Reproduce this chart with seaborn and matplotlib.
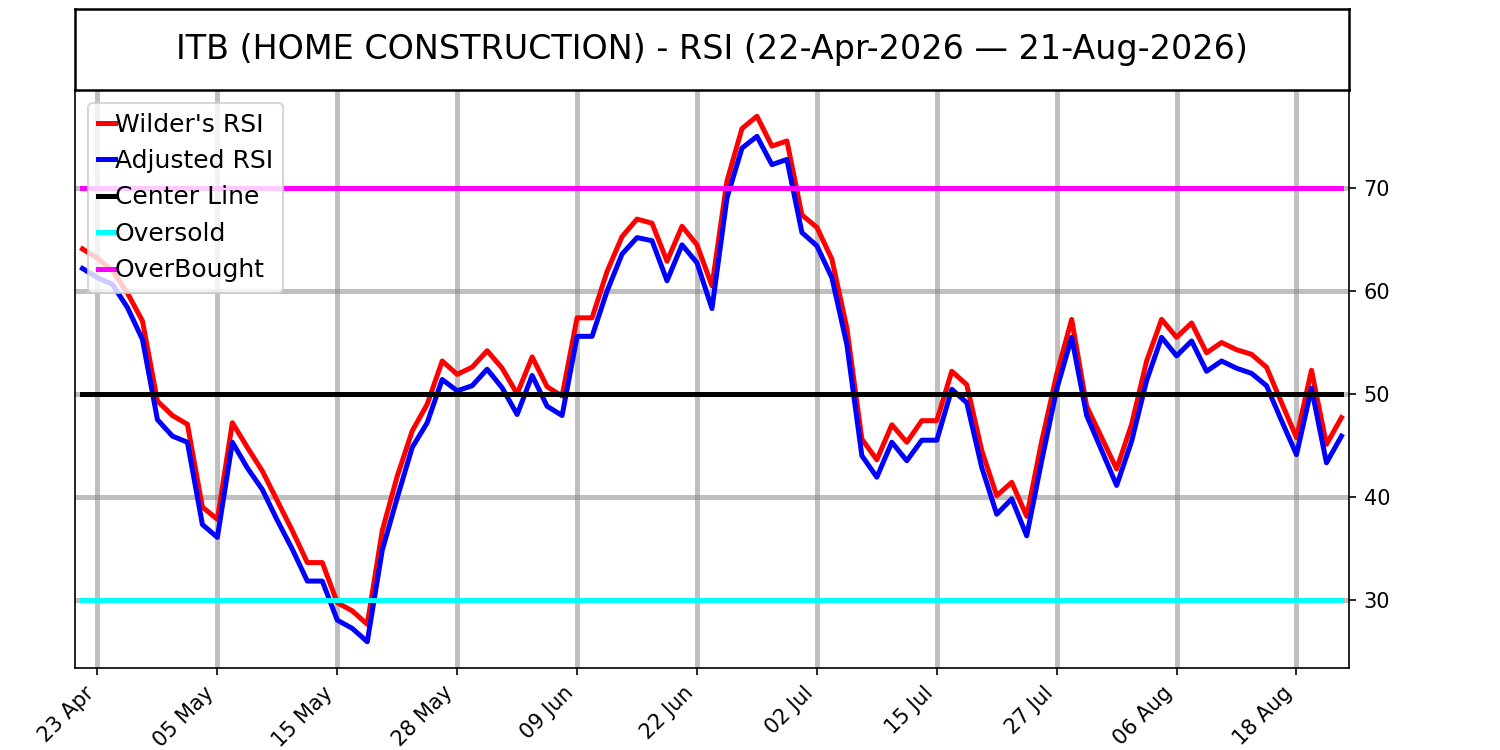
import numpy as np
import pandas as pd
import matplotlib
matplotlib.use("Agg")
import matplotlib.pyplot as plt
import seaborn as sns

title = "ITB (HOME CONSTRUCTION) - RSI (22-Apr-2026 \u2014 21-Aug-2026)"

wilders_rsi = [
    64.1, 63.2, 62.0, 59.8, 57.1, 49.3, 47.9, 47.05, 39.0, 37.8,
    47.2, 44.8, 42.5, 39.6, 36.7, 33.6, 33.6, 29.7, 28.9, 27.6,
    36.7, 42.0, 46.4, 49.0, 53.2, 51.9, 52.6, 54.2, 52.5, 50.0,
    53.6, 50.7, 49.8, 57.4, 57.4, 61.9, 65.3, 67.0, 66.6, 62.9,
    66.3, 64.5, 60.5, 70.7, 75.8, 77.0, 74.1, 74.6, 67.4, 66.2,
    63.1, 56.4, 45.6, 43.6, 47.0, 45.3, 47.4, 47.4, 52.2, 50.9,
    44.5, 40.1, 41.4, 38.1, 45.4, 51.9, 57.25, 48.8, 45.75, 42.7,
    47.05, 53.2, 57.25, 55.5, 56.9, 54.0, 55.0, 54.3, 53.85, 52.6,
    49.15, 45.75, 52.3, 45.1, 47.7,
]

adjusted_rsi = [
    62.2, 61.3, 60.65, 58.4, 55.3, 47.5, 45.9, 45.3, 37.3, 36.05,
    45.3, 42.8, 40.7, 37.7, 34.9, 31.8, 31.8, 28.0, 27.2, 25.9,
    34.8, 39.9, 44.8, 47.2, 51.4, 50.3, 50.8, 52.4, 50.6, 48.0,
    51.8, 48.8, 47.9, 55.6, 55.6, 60.0, 63.6, 65.2, 64.9, 61.0,
    64.5, 62.75, 58.3, 69.05, 73.9, 75.05, 72.3, 72.8, 65.7, 64.4,
    61.3, 54.8, 44.0, 41.9, 45.3, 43.5, 45.5, 45.5, 50.45, 49.15,
    42.85, 38.3, 39.8, 36.2, 43.5, 50.45, 55.5, 47.9, 44.5, 41.1,
    45.4, 51.3, 55.5, 53.7, 55.15, 52.2, 53.2, 52.5, 52.0, 50.8,
    47.4, 44.1, 50.55, 43.3, 45.9,
]

center_level = 50
oversold_level = 30
overbought_level = 70

tick_labels = ["23 Apr", "05 May", "15 May", "28 May", "09 Jun", "22 Jun",
               "02 Jul", "15 Jul", "27 Jul", "06 Aug", "18 Aug"]
y_ticks = [30, 40, 50, 60, 70]

n = len(wilders_rsi)
idx = np.arange(n)
df = pd.DataFrame({
    "idx": idx,
    "Wilder's RSI": wilders_rsi,
    "Adjusted RSI": adjusted_rsi,
    "Center Line": [center_level] * n,
    "Oversold": [oversold_level] * n,
    "OverBought": [overbought_level] * n,
})

fig = plt.figure(figsize=(10, 5), dpi=150)
ax = fig.add_axes([0.05, 0.1093, 0.8493, 0.7707])

series = [("Wilder's RSI", "red"), ("Adjusted RSI", "blue"),
          ("Center Line", "black"), ("Oversold", "cyan"),
          ("OverBought", "magenta")]
for name, col in series:
    sns.lineplot(data=df, x="idx", y=name, color=col, linewidth=2.4,
                 label=name, ax=ax)

ax.set_xlim(-0.5, n - 0.5)
ax.set_xticks(idx[1::8][:len(tick_labels)])
ax.set_xticklabels(tick_labels, rotation=45, ha="right", fontsize=10)
ax.set_yticks(y_ticks)
ax.yaxis.tick_right()
ax.tick_params(axis="y", labelsize=10)
ax.set_xlabel("")
ax.set_ylabel("")
ax.grid(True, color="gray", alpha=0.5, linewidth=2.4)

ax.legend(loc="upper left", fontsize=12, handlelength=0.7,
          handletextpad=0.0)

tax = fig.add_axes([0.05, 0.88, 0.8493, 0.108])
tax.set_xticks([])
tax.set_yticks([])
for s in tax.spines.values():
    s.set_color("black")
    s.set_linewidth(1.2)
tax.text(0.5, 0.5, title, ha="center", va="center", fontsize=16,
         transform=tax.transAxes)

fig.savefig("out.png", dpi=150)
